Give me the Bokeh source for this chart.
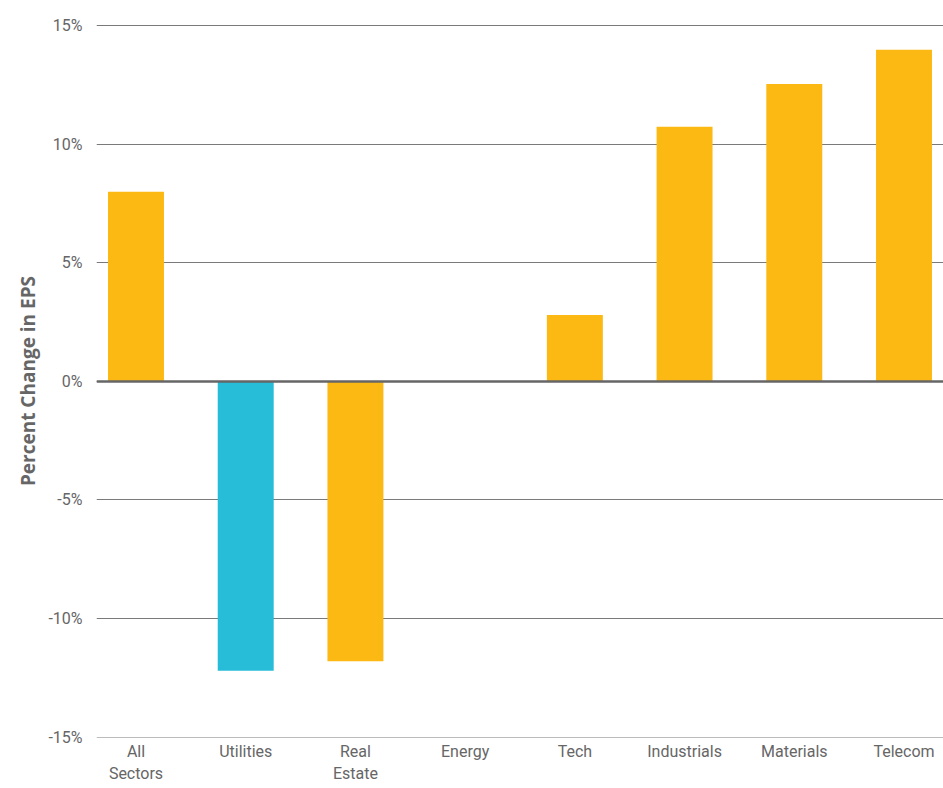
from bokeh.plotting import figure
from bokeh.models import FactorRange, Range1d, FixedTicker, PrintfTickFormatter, Span, ColumnDataSource
from bokeh.embed import file_html
from bokeh.resources import INLINE

# ---- data ----
sectors = ["All\nSectors", "Utilities", "Real\nEstate", "Energy", "Tech",
           "Industrials", "Materials", "Telecom"]
eps_change = [8.0, -12.2, -11.8, 0.0, 2.8, 10.75, 12.55, 14.0]
y_ticks = [-15, -10, -5, 0, 5, 10, 15]
highlight = ["Utilities"]

ORANGE = "#FDB913"
BLUE = "#27BCD8"
GREY = "#666666"
TICK_FONT = "Roboto"

colors = [BLUE if s in highlight else ORANGE for s in sectors]
src = ColumnDataSource(dict(x=sectors, top=eps_change, color=colors))

p = figure(
    width=943, height=788,
    x_range=FactorRange(*sectors, range_padding=-0.14, range_padding_units="absolute"),
    y_range=Range1d(-15.02, 15.06),
    output_backend="svg", toolbar_location=None,
    min_border_left=96, min_border_right=0, min_border_top=24, min_border_bottom=51,
)
p.outline_line_color = None
p.background_fill_color = "white"
p.border_fill_color = "white"

p.vbar(x="x", top="top", bottom=0, width=0.51, color="color", source=src, line_color=None)

# grid
p.xgrid.grid_line_color = None
p.ygrid.ticker = FixedTicker(ticks=y_ticks)
p.ygrid.grid_line_color = "#7a7a7a"
p.ygrid.grid_line_width = 1.2

p.add_layout(Span(location=0, dimension="width", line_color=GREY, line_width=2.5))

# y axis
p.yaxis.ticker = FixedTicker(ticks=y_ticks)
p.yaxis.formatter = PrintfTickFormatter(format="%d%%")
p.yaxis.axis_line_color = None
p.yaxis.major_tick_line_color = None
p.yaxis.minor_tick_line_color = None
p.yaxis.major_label_text_font = TICK_FONT
p.yaxis.major_label_text_font_size = "16px"
p.yaxis.major_label_text_color = GREY
p.yaxis.major_label_standoff = 8
p.yaxis.axis_label = "Percent Change in EPS"
p.yaxis.axis_label_text_font = "Open Sans"
p.yaxis.axis_label_text_font_style = "bold"
p.yaxis.axis_label_text_font_size = "19px"
p.yaxis.axis_label_text_color = GREY
p.yaxis.axis_label_standoff = 4

# x axis
p.xaxis.axis_line_color = None
p.xaxis.major_tick_line_color = None
p.xaxis.minor_tick_line_color = None
p.xaxis.major_label_text_font = TICK_FONT
p.xaxis.major_label_text_font_size = "16px"
p.xaxis.major_label_text_color = GREY
p.xaxis.major_label_standoff = -2
p.xaxis.major_label_orientation = "horizontal"

open("out.html", "w").write(file_html(p, INLINE))
